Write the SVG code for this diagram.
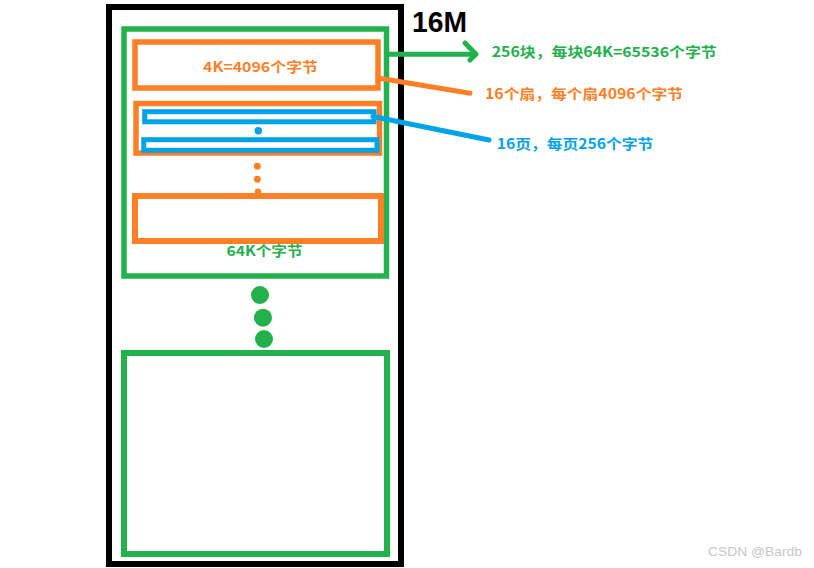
<svg xmlns="http://www.w3.org/2000/svg" width="814" height="568" viewBox="0 0 814 568">
<style>
.box{fill:none}
.blk{stroke:#000;stroke-width:6}
.grn{stroke:#22b14c;stroke-width:5.5}
.org{stroke:#ff7f27;stroke-width:5.5}
.blu{stroke:#00a2e8;stroke-width:5}
.t{font-family:"Microsoft YaHei","Noto Sans CJK SC",sans-serif;font-weight:bold;font-size:14px}
.tg{fill:#22b14c}.to{fill:#ff7f27}.tb{fill:#00a2e8}
.ln{fill:none;stroke-linecap:round;stroke-linejoin:round}
</style>
<rect width="814" height="568" fill="#fff"/>
<g id="memory">
<rect class="box blk" x="109" y="7" width="292" height="557"/>
</g>
<g id="title"><text x="412" y="31.5" font-family="Liberation Sans, Arial, sans-serif" font-weight="bold" font-size="29" textLength="55" lengthAdjust="spacingAndGlyphs">16M</text></g>
<g id="block1">
<rect class="box grn" x="124" y="29" width="262.5" height="247"/>
<text class="t tg" x="226.5" y="256" textLength="76" lengthAdjust="spacingAndGlyphs">64K个字节</text>
</g>
<g id="sector1">
<rect class="box org" x="135" y="42" width="243" height="46"/>
<text class="t to" x="203" y="72" textLength="115" lengthAdjust="spacingAndGlyphs">4K=4096个字节</text>
</g>
<g id="sector2">
<rect class="box org" x="136" y="103.5" width="243.5" height="49.5"/>
</g>
<g id="page1"><rect class="box blu" x="144.7" y="111.7" width="229.3" height="10.1"/></g>
<g id="page2"><rect class="box blu" x="143.7" y="139.7" width="233.3" height="10.6"/></g>
<g id="sectorLast"><rect class="box org" x="135" y="196" width="246" height="45" style="stroke-width:6"/></g>
<g id="block2"><rect class="box grn" x="124" y="353" width="263" height="201" style="stroke-width:6"/></g>
<g id="dots">
<circle cx="258.3" cy="130.7" r="3.8" fill="#00a2e8"/>
<circle cx="257.3" cy="166.3" r="3.5" fill="#ff7f27"/>
<circle cx="257.3" cy="179.3" r="3.5" fill="#ff7f27"/>
<circle cx="258" cy="191.7" r="3.3" fill="#ff7f27"/>
<circle cx="260" cy="295" r="9" fill="#22b14c"/>
<circle cx="263" cy="317.7" r="9" fill="#22b14c"/>
<circle cx="264" cy="339" r="9" fill="#22b14c"/>
</g>
<g id="connectors">
<path class="ln" d="M389 54.3 L476 54.3 M465 43 L476 54.3 L470 60" stroke="#22b14c" stroke-width="5"/>
<path class="ln" d="M378 78 L470 93.3" stroke="#ff7f27" stroke-width="5"/>
<path class="ln" d="M373 116.5 L489 140" stroke="#00a2e8" stroke-width="5"/>
</g>
<g id="labels">
<text class="t tg" x="491.7" y="57" textLength="225" lengthAdjust="spacingAndGlyphs">256块，每块64K=65536个字节</text>
<text class="t to" x="485" y="98.5" textLength="198" lengthAdjust="spacingAndGlyphs">16个扇，每个扇4096个字节</text>
<text class="t tb" x="496.7" y="148.5" textLength="156.5" lengthAdjust="spacingAndGlyphs">16页，每页256个字节</text>
</g>
<g id="watermark"><text x="708" y="556" font-family="Liberation Sans, Arial, sans-serif" font-size="12" fill="#c8c8c8" textLength="94" lengthAdjust="spacingAndGlyphs">CSDN @Bardb</text></g>
</svg>
